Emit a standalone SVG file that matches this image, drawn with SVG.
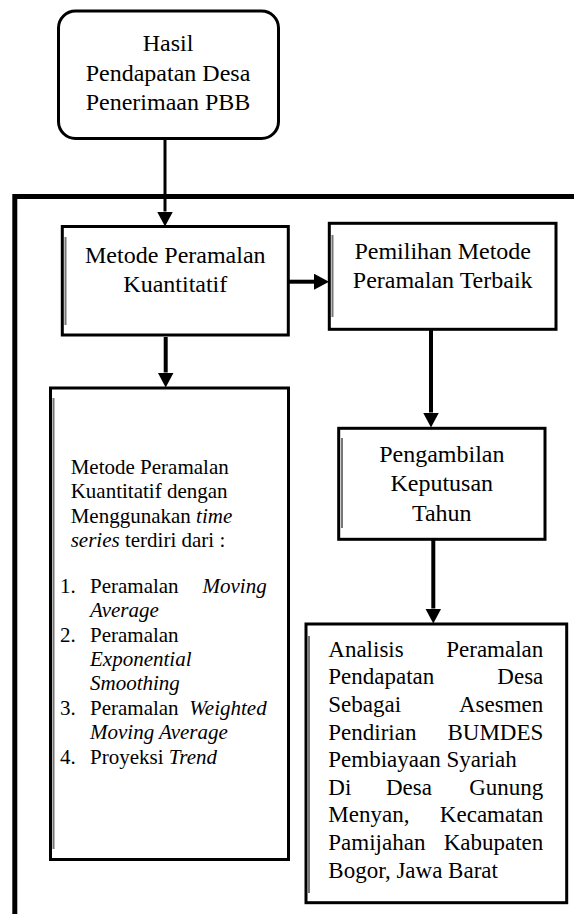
<svg xmlns="http://www.w3.org/2000/svg" width="574" height="914" viewBox="0 0 574 914">
<style>
.box{fill:#fff;stroke:#000;stroke-width:3}
.shade{stroke:#777;stroke-width:2;fill:none}
text{font-family:'Liberation Serif','DejaVu Serif',serif;fill:#000}
.t24{font-size:24px;text-anchor:middle}
.t21{font-size:21px}
.t23{font-size:23px}
.it{font-style:italic}
.end{text-anchor:end}
.conn{stroke:#000;fill:none}
</style>
<defs>
<marker id="ah" markerUnits="userSpaceOnUse" markerWidth="16" markerHeight="16" refX="0" refY="8" orient="auto">
<path d="M0,0 L15,8 L0,16 z" fill="#000"/>
</marker>
</defs>
<rect width="574" height="914" fill="#fff"/>
<g id="frame">
<path d="M14.8,914 V196.5 H574" fill="none" stroke="#000" stroke-width="5"/>
</g>
<g id="hasil" font-family="Liberation Serif, DejaVu Serif, serif">
<rect class="box" x="58.5" y="11" width="220" height="127.5" rx="17" ry="17"/>
<text class="t24" x="168" y="50.7">Hasil</text>
<text class="t24" x="168" y="81.2">Pendapatan Desa</text>
<text class="t24" x="168" y="110">Penerimaan PBB</text>
</g>
<g id="metode" font-family="Liberation Serif, DejaVu Serif, serif">
<rect class="box" x="62.3" y="226.5" width="226" height="108.5"/>
<line class="shade" x1="65.5" y1="237" x2="65.5" y2="325"/>
<text class="t24" x="175.3" y="262.7">Metode Peramalan</text>
<text class="t24" x="175.3" y="291.7">Kuantitatif</text>
</g>
<g id="pemilihan" font-family="Liberation Serif, DejaVu Serif, serif">
<rect class="box" x="329.3" y="223.3" width="226.7" height="106"/>
<line class="shade" x1="332.5" y1="235" x2="332.5" y2="317"/>
<text class="t24" x="442.7" y="259.3">Pemilihan Metode</text>
<text class="t24" x="442.7" y="288.3">Peramalan Terbaik</text>
</g>
<g id="pengambilan" font-family="Liberation Serif, DejaVu Serif, serif">
<rect class="box" x="338.7" y="428.3" width="206.3" height="111"/>
<line class="shade" x1="342" y1="438" x2="342" y2="528"/>
<text class="t24" x="441.8" y="461.7">Pengambilan</text>
<text class="t24" x="441.8" y="491">Keputusan</text>
<text class="t24" x="441.8" y="520.7">Tahun</text>
</g>
<g id="time-series" font-family="Liberation Serif, DejaVu Serif, serif">
<rect class="box" x="50.5" y="388" width="238" height="471.5"/>
<line class="shade" x1="53.5" y1="398" x2="53.5" y2="849"/>
<text class="t21" x="70.7" y="474">Metode Peramalan</text>
<text class="t21" x="70.7" y="498.3">Kuantitatif dengan</text>
<text class="t21" x="70.7" y="522.7">Menggunakan <tspan class="it">time</tspan></text>
<text class="t21" x="70.7" y="546.7"><tspan class="it">series</tspan> terdiri dari :</text>
<text class="t21" x="60" y="592.7">1.</text>
<text class="t21" x="90" y="592.7">Peramalan</text>
<text class="t21 it end" x="266.7" y="592.7">Moving</text>
<text class="t21 it" x="90" y="617.1">Average</text>
<text class="t21" x="60" y="641.5">2.</text>
<text class="t21" x="90" y="641.5">Peramalan</text>
<text class="t21 it" x="90" y="665.9">Exponential</text>
<text class="t21 it" x="90" y="690.3">Smoothing</text>
<text class="t21" x="60" y="714.7">3.</text>
<text class="t21" x="90" y="714.7">Peramalan</text>
<text class="t21 it end" x="266.7" y="714.7">Weighted</text>
<text class="t21 it" x="90" y="739.1">Moving Average</text>
<text class="t21" x="60" y="763.5">4.</text>
<text class="t21" x="90" y="763.5">Proyeksi <tspan class="it">Trend</tspan></text>
</g>
<g id="analisis" font-family="Liberation Serif, DejaVu Serif, serif">
<rect class="box" x="306" y="624" width="260.7" height="278.7"/>
<line class="shade" x1="309" y1="636" x2="309" y2="893"/>
<text class="t23" x="328.3" y="656.7">Analisis</text>
<text class="t23 end" x="543.3" y="656.7">Peramalan</text>
<text class="t23" x="328.3" y="684.3">Pendapatan</text>
<text class="t23 end" x="543.3" y="684.3">Desa</text>
<text class="t23" x="328.3" y="711.9">Sebagai</text>
<text class="t23 end" x="543.3" y="711.9">Asesmen</text>
<text class="t23" x="328.3" y="739.5">Pendirian</text>
<text class="t23 end" x="543.3" y="739.5">BUMDES</text>
<text class="t23" x="328.3" y="767.1">Pembiayaan Syariah</text>
<text class="t23" x="328.3" y="794.7">Di</text>
<text class="t23" x="386" y="794.7">Desa</text>
<text class="t23 end" x="543.3" y="794.7">Gunung</text>
<text class="t23" x="328.3" y="822.3">Menyan,</text>
<text class="t23 end" x="543.3" y="822.3">Kecamatan</text>
<text class="t23" x="328.3" y="849.9">Pamijahan</text>
<text class="t23 end" x="543.3" y="849.9">Kabupaten</text>
<text class="t23" x="328.3" y="877.5">Bogor, Jawa Barat</text>
</g>
<g id="connectors">
<line class="conn" x1="165" y1="138.5" x2="165" y2="211.5" stroke-width="3" marker-end="url(#ah)"/>
<line class="conn" x1="288.3" y1="281.7" x2="314" y2="281.7" stroke-width="4" marker-end="url(#ah)"/>
<line class="conn" x1="165.7" y1="337" x2="165.7" y2="372.5" stroke-width="4" marker-end="url(#ah)"/>
<line class="conn" x1="431" y1="330" x2="431" y2="412.5" stroke-width="4" marker-end="url(#ah)"/>
<line class="conn" x1="433.3" y1="540" x2="433.3" y2="608.5" stroke-width="4" marker-end="url(#ah)"/>
</g>
</svg>
